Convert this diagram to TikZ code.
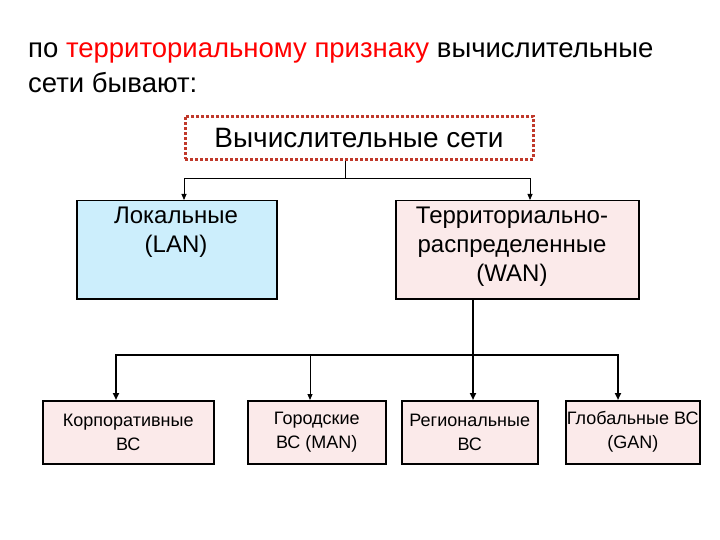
\documentclass[tikz,border=0pt]{standalone}
\usepackage{fontspec}
\setmainfont{Liberation Sans}
\usetikzlibrary{arrows.meta}
\definecolor{lblue}{HTML}{CCEEFC}
\definecolor{lpink}{HTML}{FBEAEA}
\definecolor{dred}{HTML}{C0392B}
\begin{document}
\begin{tikzpicture}[x=1pt,y=-1pt,
  box/.style={draw=black,line width=1.5pt,fill=lpink,align=center,inner sep=0pt},
  conn/.style={line width=2.2pt,-{Triangle[length=7pt,width=6pt]}},
  thin/.style={line width=1pt,-{Triangle[length=6pt,width=5pt]}}]
\useasboundingbox (0,0) rectangle (720,540);
\node[anchor=base west,inner sep=0pt,font=\fontsize{27.5}{30}\selectfont] (t1) at (28,58)
  {по \textcolor{red}{территориальному признаку} вычислительные};
\node[anchor=base west,inner sep=0pt,font=\fontsize{27.5}{30}\selectfont] (t2) at (28,93) {сети бывают:};
\node[draw=dred,dotted,line width=3pt,fill=white,minimum width=348pt,minimum height=43pt,
  font=\fontsize{28}{30}\selectfont] (top) at (359,138) {Вычислительные сети};
\node[box,fill=lblue,minimum width=200pt,minimum height=98pt,anchor=north west] (lan) at (76,200) {};
\node[font=\fontsize{24}{29}\selectfont,align=center,anchor=north] (lant) at (176,203) {Локальные\\(LAN)};
\node[box,minimum width=243pt,minimum height=98pt,anchor=north west] (wan) at (395,200) {};
\node[font=\fontsize{24}{29}\selectfont,align=center,anchor=north] (want) at (512,203) {Территориально-\\распределенные\\(WAN)};
\tikzset{bb/.style={box,minimum height=63pt,anchor=north west,font=\fontsize{18}{24}\selectfont}}
\node[bb,minimum width=171pt] (c1) at (42,400) {Корпоративные\\ВС};
\node[bb,minimum width=138pt] (c2) at (247,400) {Городские\\ВС (MAN)};
\node[bb,minimum width=136pt] (c3) at (401,400) {Региональные\\ВС};
\node[bb,minimum width=134pt] (c4) at (565,400) {Глобальные ВС\\(GAN)};
\coordinate (j1) at (345,178);
\draw[line width=0.8pt] (top.south -| j1) -- (j1);
\draw[line width=0.8pt,-{Triangle[length=6pt,width=5pt]}] (j1) -| (184,200);
\draw[line width=0.8pt,-{Triangle[length=6pt,width=5pt]}] (j1) -| (530,200);
\coordinate (j2) at (473,355);
\draw[line width=2.2pt] (473,298) -- (j2);
\draw[conn] (j2) -| (c1.north -| 116,0);
\draw[conn] (j2) -| (c4.north -| 618,0);
\draw[conn] (j2) -- (c3.north -| j2);
\draw[thin] (310,355) -- (c2.north -| 310,0);
\end{tikzpicture}
\end{document}
